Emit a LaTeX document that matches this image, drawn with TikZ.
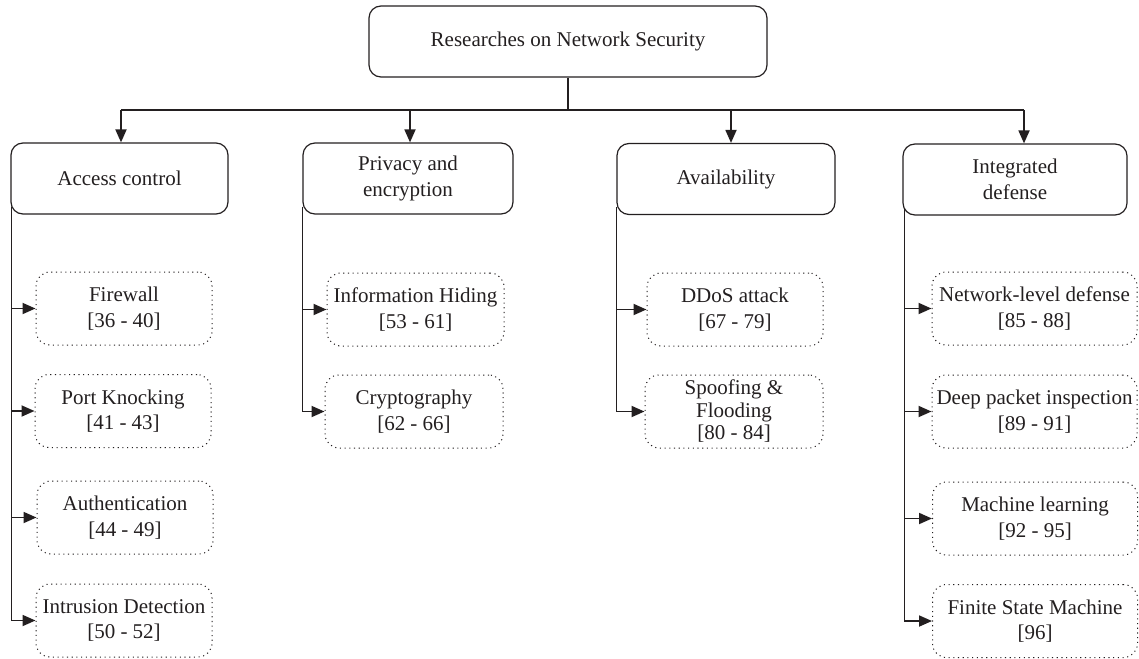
\documentclass[tikz,border=0pt]{standalone}
\usepackage{fontspec}
\setmainfont{Liberation Serif}
\usetikzlibrary{arrows.meta}
\definecolor{ink}{HTML}{231F20}
\begin{document}
\begin{tikzpicture}[x=1pt,y=-1pt,
  font=\fontsize{21}{25.5}\selectfont,
  every node/.style={text=ink, align=center},
  mainbox/.style={draw=ink, line width=1.2pt, rounded corners=12pt,
    minimum height=71pt, inner sep=0pt},
  subbox/.style={draw=ink, line width=1pt, dash pattern=on 1.1pt off 3.6pt,
    rounded corners=14pt, minimum height=73pt, inner sep=0pt},
  trunk/.style={draw=ink, line width=1.2pt},
  arr/.style={draw=ink, line width=1.8pt, -{Triangle[length=13pt,width=11pt]}}]
\useasboundingbox (0,0) rectangle (1139,658);

% root
\node[mainbox, minimum width=398pt] (top) at (568,41.5) {Researches on Network Security};

% categories
\node[mainbox, minimum width=217pt] (ac) at (119.5,178.5) {Access control};
\node[mainbox, minimum width=210pt] (pe) at (408,178.5) {Privacy and\\encryption};
\node[mainbox, minimum width=218pt] (av) at (726,179) {Availability};
\node[mainbox, minimum width=224pt] (id) at (1015,179.5) {Integrated\\defense};

% branch points on the distribution bar
\coordinate (b1) at (121,110);
\coordinate (b2) at (410,110);
\coordinate (b3) at (731,110);
\coordinate (b4) at (1024,110);

\draw[trunk] (top.south) -- (top.south |- b1);
\draw[trunk] (b1) -- (b4);
\foreach \b/\n in {b1/ac,b2/pe,b3/av,b4/id}
  \draw[arr] (\b) -- (\b |- \n.north);

% access control topics
\node[subbox, minimum width=176pt] (c11) at (124,308.5) {Firewall\\{[36 - 40]}};
\node[subbox, minimum width=176pt] (c12) at (123,411) {Port Knocking\\{[41 - 43]}};
\node[subbox, minimum width=176pt] (c13) at (125,517.5) {Authentication\\{[44 - 49]}};
\node[subbox, minimum width=176pt] (c14) at (124,620.5) {Intrusion Detection\\{[50 - 52]}};

% privacy and encryption topics
\node[subbox, minimum width=177pt] (c21) at (415.5,309.5) {Information Hiding\\{[53 - 61]}};
\node[subbox, minimum width=178pt] (c22) at (414,411.5) {Cryptography\\{[62 - 66]}};

% availability topics
\node[subbox, minimum width=176pt] (c31) at (735,309.5) {DDoS attack\\{[67 - 79]}};
\node[subbox, minimum width=178pt, font=\fontsize{21}{22.5}\selectfont] (c32) at (734,411.5) {Spoofing \&\\Flooding\\{[80 - 84]}};

% integrated defense topics
\node[subbox, minimum width=205pt] (c41) at (1034.5,308.5) {Network-level defense\\{[85 - 88]}};
\node[subbox, minimum width=205pt] (c42) at (1034.5,411.5) {Deep packet inspection\\{[89 - 91]}};
\node[subbox, minimum width=205pt] (c43) at (1035,518.5) {Machine learning\\{[92 - 95]}};
\node[subbox, minimum width=205pt] (c44) at (1035,621) {Finite State Machine\\{[96]}};

% trunks and branches
\draw[trunk] ([xshift=1pt,yshift=8pt]ac.south west) -- ([xshift=1pt]ac.south west |- c14.west);
\foreach \c in {c11,c12,c13,c14}
  \draw[arr] ([xshift=1pt]ac.south west |- \c.west) -- (\c.west);

\draw[trunk] ([yshift=8pt]pe.south west) -- (pe.south west |- c22.west);
\foreach \c in {c21,c22}
  \draw[arr] (pe.south west |- \c.west) -- (\c.west);

\draw[trunk] ([yshift=8pt]av.south west) -- (av.south west |- c32.west);
\foreach \c in {c31,c32}
  \draw[arr] (av.south west |- \c.west) -- (\c.west);

\draw[trunk] ([xshift=2pt,yshift=8pt]id.south west) -- ([xshift=2pt]id.south west |- c44.west);
\foreach \c in {c41,c42,c43,c44}
  \draw[arr] ([xshift=2pt]id.south west |- \c.west) -- (\c.west);
\end{tikzpicture}
\end{document}
